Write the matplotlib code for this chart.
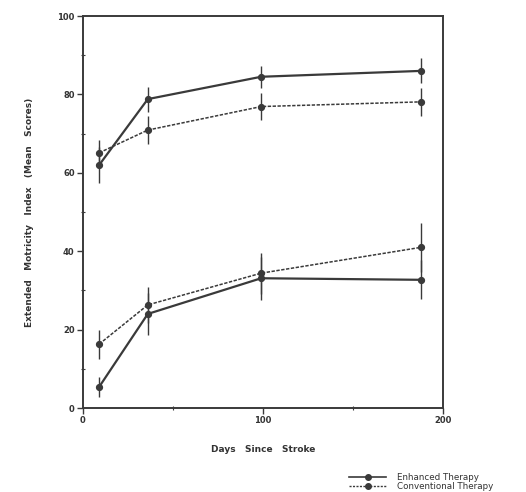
import matplotlib
matplotlib.use("Agg")
import matplotlib.pyplot as plt
from matplotlib.ticker import MultipleLocator
from matplotlib.lines import Line2D

days = [9, 36, 99, 188]

enh_high = [62.0, 78.8, 84.5, 86.0]
enh_high_err = [4.5, 3.2, 2.8, 3.2]
conv_high = [65.1, 70.9, 76.9, 78.1]
conv_high_err = [3.3, 3.5, 3.4, 3.6]

enh_low = [5.4, 24.0, 33.1, 32.7]
enh_low_err = [2.5, 5.4, 5.5, 5.0]
conv_low = [16.3, 26.3, 34.4, 41.0]
conv_low_err = [3.7, 4.6, 5.2, 6.3]

x_ticks = [0, 100, 200]
y_ticks = [0, 20, 40, 60, 80, 100]

col = "#3a3a3a"

fig = plt.figure(figsize=(5.26, 4.92), dpi=100)
ax = fig.add_axes([83/526, 84/492, 360/526, 392/492])

kw = dict(color=col, marker="o", markersize=4.2, elinewidth=1.0, capsize=0)
ax.errorbar(days, enh_high, yerr=enh_high_err, linestyle="-", linewidth=1.6, **kw)
ax.errorbar(days, enh_low, yerr=enh_low_err, linestyle="-", linewidth=1.6, **kw)
ax.errorbar(days, conv_high, yerr=conv_high_err, linestyle=(0, (2.2, 1.0)), linewidth=1.1, **kw)
ax.errorbar(days, conv_low, yerr=conv_low_err, linestyle=(0, (2.2, 1.0)), linewidth=1.1, **kw)

ax.set_xlim(0, 200)
ax.set_ylim(0, 100)
ax.set_xticks(x_ticks)
ax.set_yticks(y_ticks)
ax.xaxis.set_minor_locator(MultipleLocator(50))
ax.yaxis.set_minor_locator(MultipleLocator(10))
ax.tick_params(which="major", direction="out", length=4, width=1, color=col,
               labelsize=6, labelcolor="#333333", pad=2)
ax.tick_params(which="minor", direction="inout", length=3, width=0.8, color=col)
for lab in ax.get_xticklabels() + ax.get_yticklabels():
    lab.set_fontweight("bold")
for s in ax.spines.values():
    s.set_color(col)
    s.set_linewidth(1.4)

ax.set_xlabel("Days   Since   Stroke", fontsize=6.5, fontweight="bold", color="#333333", labelpad=14)
ax.set_ylabel("Extended   Motricity   Index   (Mean   Scores)", fontsize=6.5, fontweight="bold",
              color="#333333", labelpad=17)

lh1 = Line2D([], [], color=col, linestyle="-", linewidth=1.2, marker="o", markersize=4)
lh2 = Line2D([], [], color=col, linestyle=(0, (1.5, 1)), linewidth=1.0, marker="o", markersize=4)
fig.legend([lh1, lh2], ["Enhanced Therapy", "Conventional Therapy"],
           loc="upper left", bbox_to_anchor=(345/526, 1 - 469/492), frameon=False,
           fontsize=6.3, handlelength=4.2, handletextpad=1.2, labelspacing=0.0,
           borderpad=0, labelcolor="#333333")

fig.savefig("out.png", dpi=100)
